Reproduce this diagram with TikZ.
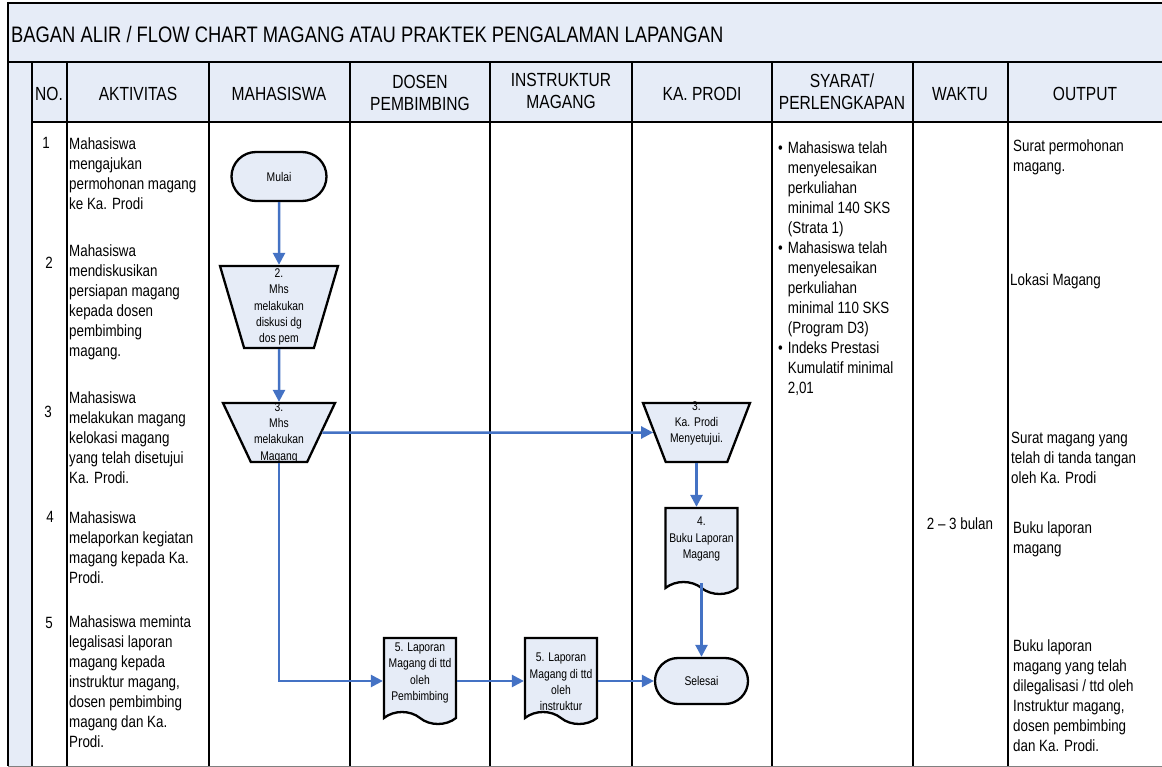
\documentclass[tikz,border=0pt]{standalone}
\usepackage{fontspec}
\setmainfont{Liberation Sans}[FakeStretch=0.82]
\usetikzlibrary{arrows.meta,shapes.geometric,shapes.misc,shapes.symbols}

\definecolor{cellblue}{RGB}{230,236,247}
\definecolor{flowblue}{RGB}{68,114,196}

\newcommand{\bodyfont}{\fontsize{16.3}{20}\selectfont}
\newcommand{\headfont}{\fontsize{19}{22}\selectfont}
\newcommand{\shapefont}{\fontsize{12.6}{16.3}\selectfont}

\tikzset{
  tableline/.style={line width=2.6pt},
  bodycell/.style={anchor=north west,align=left,inner sep=0pt,font=\bodyfont},
  headcell/.style={align=center,inner sep=0pt,font=\headfont},
  shapetext/.style={align=center,inner sep=0pt,font=\shapefont},
  flowshape/.style={draw,line width=2.3pt,fill=cellblue,inner sep=0pt},
  terminal/.style={flowshape,rounded rectangle},
  trapshape/.style={flowshape,trapezium,shape border rotate=180,trapezium stretches=true},
  docshape/.style={flowshape,tape,tape bend top=none,tape bend bottom=out and in,tape bend height=12pt,minimum width=72pt,minimum height=86pt},
  flowline/.style={draw=flowblue,line width=2.5pt,-{Triangle[length=12pt,width=12pt]}},
}

\begin{document}
\begin{tikzpicture}[x=1pt,y=-1pt]
  \useasboundingbox (0,0) rectangle (1162,767);
  % title band, header row and table grid
  \fill[cellblue] (8,3) rectangle (1163,122);
  \fill[cellblue] (8,122) rectangle (32,766);
  \draw[tableline] (8,3) -- (1163,3);
  \draw[tableline] (8,62) -- (1163,62);
  \draw[tableline] (32,122) -- (1163,122);
  \draw[line width=1.6pt] (8,2) -- (8,766);
  \foreach \x in {32,67,209,350,490,632,772,913,1008} {%
    \draw[tableline] (\x,62) -- (\x,766);
  }
  \draw[gray,line width=1pt] (8,766) -- (1163,766);

  \node[anchor=base west,inner sep=0pt,font=\fontsize{22.4}{26}\selectfont] (title) at (11,43)
    {BAGAN ALIR / FLOW CHART MAGANG ATAU PRAKTEK PENGALAMAN LAPANGAN};

  \node[headcell] (hno) at (49,94) {NO.};
  \node[headcell] (hakt) at (138,94) {AKTIVITAS};
  \node[headcell] (hmhs) at (279,94) {MAHASISWA};
  \node[headcell] (hdos) at (420,93) {DOSEN\\PEMBIMBING};
  \node[headcell] (hins) at (561,91) {INSTRUKTUR\\MAGANG};
  \node[headcell] (hkap) at (702,94) {KA. PRODI};
  \node[headcell] (hsya) at (842,92) {SYARAT/\\PERLENGKAPAN};
  \node[headcell] (hwak) at (960,94) {WAKTU};
  \node[headcell] (hout) at (1085,94) {OUTPUT};

  \foreach \n/\x/\y in {1/46/143,2/49/263,3/48/412,4/50/517,5/49/623} {%
    \node[font=\bodyfont,inner sep=0pt] (no\n) at (\x,\y) {\n};
  }

  \node[bodycell] (akt1) at (69,137) {Mahasiswa\\mengajukan\\permohonan magang\\ke Ka. Prodi};
  \node[bodycell] (akt2) at (69,244) {Mahasiswa\\mendiskusikan\\persiapan magang\\kepada dosen\\pembimbing\\magang.};
  \node[bodycell] (akt3) at (69,391) {Mahasiswa\\melakukan magang\\kelokasi magang\\yang telah disetujui\\Ka. Prodi.};
  \node[bodycell] (akt4) at (69,511) {Mahasiswa\\melaporkan kegiatan\\magang kepada Ka.\\Prodi.};
  \node[bodycell] (akt5) at (69,615) {Mahasiswa meminta\\legalisasi laporan\\magang kepada\\instruktur magang,\\dosen pembimbing\\magang dan Ka.\\Prodi.};

  \node[bodycell] (syarat) at (778,139) {\begin{tabular}{@{}l@{\hspace{5pt}}l@{}}
    \textbullet & Mahasiswa telah\\ & menyelesaikan\\ & perkuliahan\\ & minimal 140 SKS\\ & (Strata 1)\\
    \textbullet & Mahasiswa telah\\ & menyelesaikan\\ & perkuliahan\\ & minimal 110 SKS\\ & (Program D3)\\
    \textbullet & Indeks Prestasi\\ & Kumulatif minimal\\ & 2,01
  \end{tabular}};

  \node[font=\bodyfont,inner sep=0pt] (waktu) at (960,524) {2 -- 3 bulan};

  \node[bodycell] (out1) at (1013,139) {Surat permohonan\\magang.};
  \node[bodycell] (out2) at (1010,273) {Lokasi Magang};
  \node[bodycell] (out3) at (1011,432) {Surat magang yang\\telah di tanda tangan\\oleh Ka. Prodi};
  \node[bodycell] (out4) at (1013,521) {Buku laporan\\magang};
  \node[bodycell] (out5) at (1013,639) {Buku laporan\\magang yang telah\\dilegalisasi / ttd oleh\\Instruktur magang,\\dosen pembimbing\\dan Ka. Prodi.};

  % flow chart
  \node[terminal,minimum width=95pt,minimum height=49pt,
    label={[shapetext]center:Mulai}] (mulai) at (279,176.5) {\phantom{x}};
  \node[trapshape,minimum width=118pt,minimum height=82pt,trapezium angle=75,
    label={[shapetext]center:{2.\\Mhs\\melakukan\\diskusi dg\\dos pem}}] (mhs2) at (279,307) {\phantom{x}};
  \node[trapshape,minimum width=112pt,minimum height=59pt,trapezium angle=69,
    label={[shapetext]center:{3.\\Mhs\\melakukan\\Magang}}] (mhs3) at (279,432.5) {\phantom{x}};
  \node[trapshape,minimum width=107pt,minimum height=59pt,trapezium angle=74,
    label={[shapetext,yshift=9pt]center:{3.\\Ka. Prodi\\Menyetujui.}}] (kap3) at (696.5,432.5) {\phantom{x}};
  \node[docshape,label={[shapetext,yshift=6pt]center:{4.\\Buku Laporan\\Magang}}] (lap4) at (701.5,545) {\phantom{x}};
  \node[docshape,label={[shapetext,yshift=2pt]center:{5. Laporan\\Magang di ttd\\oleh\\Pembimbing}}] (dos5) at (420,675) {\phantom{x}};
  \node[docshape,label={[shapetext,yshift=-7pt]center:{5. Laporan\\Magang di ttd\\oleh\\instruktur}}] (ins5) at (561,675) {\phantom{x}};
  \node[terminal,minimum width=93pt,minimum height=46pt,
    label={[shapetext]center:Selesai}] (selesai) at (701.5,681) {\phantom{x}};

  \draw[flowline] (mulai.south) -- (mhs2.north);
  \draw[flowline] (mhs2.south) -- (mhs3.north);
  \draw[flowline] (mhs3.east) -- (kap3.west);
  \draw[flowline] (kap3.south) -- (kap3.south |- lap4.north);
  \draw[flowline] (lap4.south) -- (selesai.north);
  \draw[flowline] (mhs3.south) |- ([yshift=-6pt]dos5.west);
  \draw[flowline] ([yshift=-6pt]dos5.east) -- ([yshift=-6pt]ins5.west);
  \draw[flowline] ([yshift=-6pt]ins5.east) -- (selesai.west);
\end{tikzpicture}
\end{document}
